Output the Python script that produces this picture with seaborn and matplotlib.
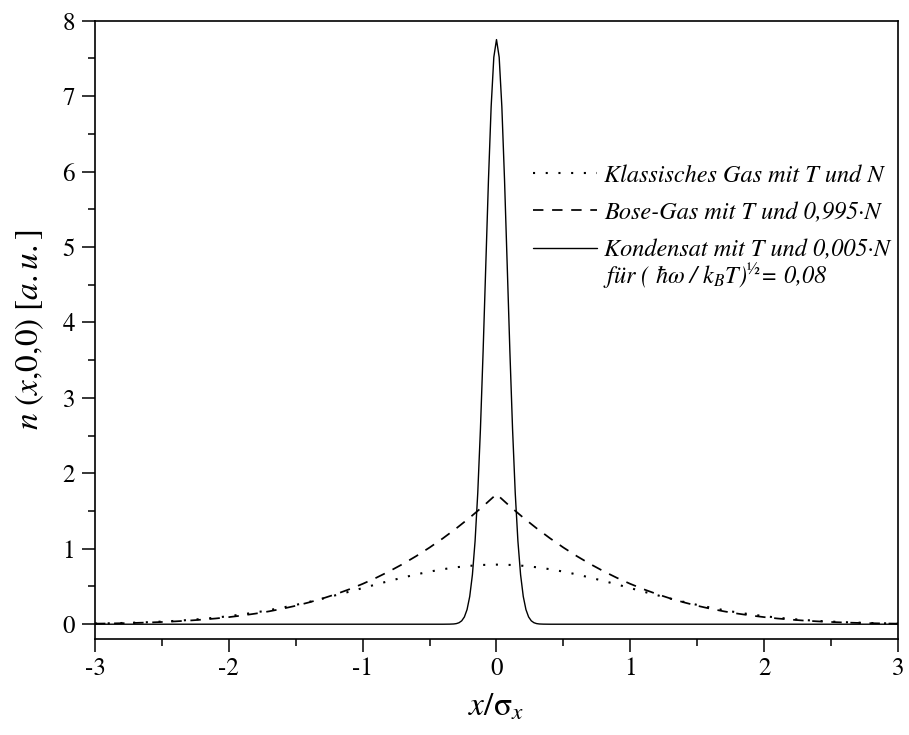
import numpy as np
import pandas as pd
import matplotlib
matplotlib.use("Agg")
import matplotlib.pyplot as plt
import seaborn as sns

# ---------------- data ----------------
x_broad = [-3.0, -2.9, -2.8, -2.7, -2.6, -2.5, -2.4, -2.3, -2.2, -2.1,
           -2.0, -1.9, -1.8, -1.7, -1.6, -1.5, -1.4, -1.3, -1.2, -1.1,
           -1.0, -0.9, -0.8, -0.7, -0.6, -0.5, -0.4, -0.3, -0.2, -0.1,
           0.0, 0.1, 0.2, 0.3, 0.4, 0.5, 0.6, 0.7, 0.8, 0.9,
           1.0, 1.1, 1.2, 1.3, 1.4, 1.5, 1.6, 1.7, 1.8, 1.9,
           2.0, 2.1, 2.2, 2.3, 2.4, 2.5, 2.6, 2.7, 2.8, 2.9, 3.0]

classical = [0.009, 0.012, 0.016, 0.021, 0.027, 0.035, 0.044, 0.056, 0.070, 0.087,
             0.107, 0.130, 0.156, 0.186, 0.220, 0.256, 0.296, 0.339, 0.385, 0.431,
             0.479, 0.527, 0.574, 0.618, 0.660, 0.697, 0.729, 0.755, 0.774, 0.786,
             0.790, 0.786, 0.774, 0.755, 0.729, 0.697, 0.660, 0.618, 0.574, 0.527,
             0.479, 0.431, 0.385, 0.339, 0.296, 0.256, 0.220, 0.186, 0.156, 0.130,
             0.107, 0.087, 0.070, 0.056, 0.044, 0.035, 0.027, 0.021, 0.016, 0.012, 0.009]

bose = [0.0074, 0.0099, 0.0132, 0.0174, 0.0228, 0.0295, 0.0378, 0.0481, 0.0606, 0.0758,
        0.0939, 0.1155, 0.1409, 0.1705, 0.2049, 0.2444, 0.2896, 0.3408, 0.3985, 0.4630,
        0.5348, 0.6145, 0.7022, 0.7982, 0.9028, 1.0164, 1.1391, 1.2711, 1.4126, 1.5636,
        1.7242, 1.5636, 1.4126, 1.2711, 1.1391, 1.0164, 0.9028, 0.7982, 0.7022, 0.6145,
        0.5348, 0.4630, 0.3985, 0.3408, 0.2896, 0.2444, 0.2049, 0.1705, 0.1409, 0.1155,
        0.0939, 0.0758, 0.0606, 0.0481, 0.0378, 0.0295, 0.0228, 0.0174, 0.0132, 0.0099, 0.0074]

x_cond = [-3.0, -0.40, -0.35, -0.32, -0.30, -0.28, -0.26, -0.24, -0.22, -0.20,
          -0.18, -0.16, -0.14, -0.12, -0.10, -0.08, -0.06, -0.04, -0.02, 0.0,
          0.02, 0.04, 0.06, 0.08, 0.10, 0.12, 0.14, 0.16, 0.18, 0.20,
          0.22, 0.24, 0.26, 0.28, 0.30, 0.32, 0.35, 0.40, 3.0]
condensate = [0.0, 0.0, 0.001, 0.0032, 0.0081, 0.0197, 0.0449, 0.0962, 0.194, 0.368,
              0.656, 1.102, 1.740, 2.587, 3.617, 4.759, 5.891, 6.860, 7.517, 7.750,
              7.517, 6.860, 5.891, 4.759, 3.617, 2.587, 1.740, 1.102, 0.656, 0.368,
              0.194, 0.0962, 0.0449, 0.0197, 0.0081, 0.0032, 0.001, 0.0, 0.0]

x_ticks = [-3, -2, -1, 0, 1, 2, 3]
y_ticks = [0, 1, 2, 3, 4, 5, 6, 7, 8]

labels = ["Klassisches Gas mit T und N",
          "Bose-Gas mit T und 0,995·N",
          "Kondensat mit T und 0,005·N"]
extra_line = "für ( ħω / $k_BT$)$^{½}$= 0,08"

# ---------------- style ----------------
sns.set_theme(style="ticks")
SERIF = ["STIXGeneral", "Liberation Serif", "DejaVu Serif"]
plt.rcParams.update({
    "font.family": SERIF,
    "mathtext.fontset": "stix",
    "axes.edgecolor": "black",
    "axes.linewidth": 1.2,
    "xtick.color": "black",
    "ytick.color": "black",
    "text.color": "black",
    "axes.labelcolor": "black",
})

fig = plt.figure(figsize=(9.09, 7.35), dpi=100)
ax = fig.add_axes([0.1045, 0.1302, 0.8834, 0.8416])

df_c = pd.DataFrame({"x": x_broad, "y": classical})
df_b = pd.DataFrame({"x": x_broad, "y": bose})
df_k = pd.DataFrame({"x": x_cond, "y": condensate})

sns.lineplot(data=df_c, x="x", y="y", ax=ax, color="black", lw=1.5,
             linestyle=(0, (1, 5.1)), label=labels[0])
sns.lineplot(data=df_b, x="x", y="y", ax=ax, color="black", lw=1.25,
             linestyle=(0, (6, 5)), label=labels[1])
sns.lineplot(data=df_k, x="x", y="y", ax=ax, color="black", lw=1.0,
             linestyle="-", label=labels[2])

ax.set_xlim(-3, 3)
ax.set_ylim(-0.2, 8)
ax.set_xticks(x_ticks)
ax.set_xticklabels([str(v) for v in x_ticks])
ax.set_yticks(y_ticks)
ax.set_yticklabels([str(v) for v in y_ticks])
ax.set_xticks(np.arange(-2.5, 3.0, 1.0), minor=True)
ax.set_yticks(np.arange(0.5, 8.0, 1.0), minor=True)
ax.tick_params(which="major", direction="out", length=9.4, width=1.1,
               labelsize=18)
ax.tick_params(axis="x", which="major", pad=3)
ax.tick_params(axis="y", which="major", pad=5)
ax.tick_params(which="minor", direction="out", length=5, width=1.1)
ax.tick_params(axis="y", which="both", left=True, right=False)
ax.tick_params(axis="x", which="both", bottom=True, top=False)
for s in ax.spines.values():
    s.set_visible(True)
    s.set_linewidth(1.2)
    s.set_color("black")

ax.set_xlabel(r"$x/\mathrm{\sigma}_x$", fontsize=24, labelpad=8)
ax.set_ylabel(r"$n\ (x\mathrm{,}0\mathrm{,}0)\ [a.u.]$", fontsize=24, labelpad=12)

leg = ax.legend(loc="upper left", bbox_to_anchor=(0.545, 0.768), frameon=False,
                borderpad=0, borderaxespad=0, handlelength=2.65, handletextpad=0.28,
                labelspacing=0.6,
                prop={"family": SERIF, "style": "italic", "size": 17.5})

ax.text(0.6326, 0.586, extra_line, transform=ax.transAxes, ha="left", va="center",
        fontsize=17.5, fontstyle="italic", family=SERIF)

fig.savefig("out.png", dpi=100)
